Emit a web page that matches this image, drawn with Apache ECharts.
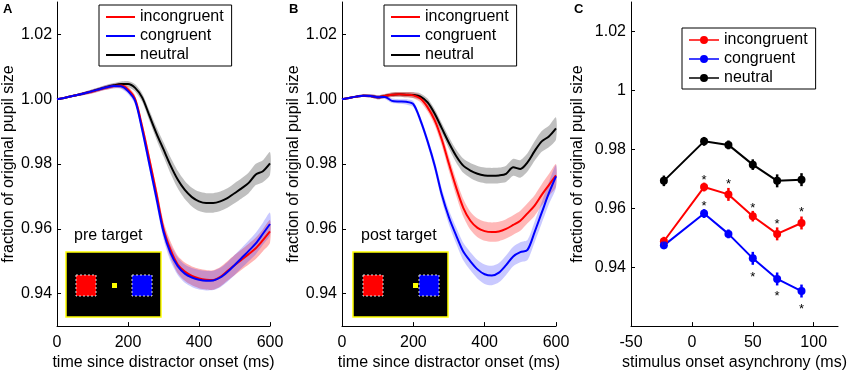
<!DOCTYPE html>
<html>
<head>
<meta charset="utf-8">
<script src="https://cdn.jsdelivr.net/npm/echarts@6/dist/echarts.min.js"></script>
<style>
html, body { margin: 0; padding: 0; background: #fff; }
#chart { width: 850px; height: 376px; }
</style>
</head>
<body>
<div id="chart"></div>
<script>
// time axis of panels A and B (ms since distractor onset)
var time = [0,20,40,60,80,100,120,140,160,180,200,220,240,260,280,300,320,340,360,380,400,420,440,460,480,500,520,540,560,580,600];

// panel A: pre target
var incA = [1.0000,1.0004,1.0009,1.0014,1.0019,1.0024,1.0030,1.0036,1.0041,1.0042,1.0030,1.0000,0.9915,0.9815,0.9710,0.9600,0.9535,0.9490,0.9468,0.9455,0.9447,0.9443,0.9442,0.9452,0.9470,0.9488,0.9505,0.9522,0.9540,0.9565,0.9592];
var conA = [1.0000,1.0004,1.0009,1.0014,1.0019,1.0025,1.0031,1.0037,1.0041,1.0040,1.0025,0.9995,0.9905,0.9800,0.9695,0.9590,0.9525,0.9485,0.9462,0.9450,0.9443,0.9440,0.9441,0.9450,0.9467,0.9488,0.9510,0.9532,0.9555,0.9585,0.9615];
var neuA = [1.0000,1.0004,1.0009,1.0014,1.0019,1.0025,1.0032,1.0038,1.0043,1.0047,1.0047,1.0035,1.0005,0.9950,0.9895,0.9845,0.9795,0.9752,0.9720,0.9698,0.9685,0.9680,0.9680,0.9685,0.9695,0.9710,0.9725,0.9742,0.9768,0.9778,0.9802];
var errA = [0,0.0002,0.0003,0.0004,0.0005,0.0006,0.0006,0.0007,0.0007,0.0008,0.0009,0.0011,0.0013,0.0016,0.0019,0.0022,0.0025,0.0027,0.0028,0.0029,0.0030,0.0030,0.0030,0.0030,0.0030,0.0031,0.0031,0.0032,0.0033,0.0034,0.0035];

// panel B: post target
var incB = [1.0000,1.0004,1.0008,1.0011,1.0010,1.0006,1.0010,1.0014,1.0015,1.0014,1.0012,1.0002,0.9975,0.9935,0.9875,0.9800,0.9728,0.9665,0.9625,0.9603,0.9593,0.9590,0.9592,0.9600,0.9612,0.9625,0.9648,0.9672,0.9705,0.9735,0.9765];
var conB = [1.0000,1.0004,1.0008,1.0011,1.0010,1.0006,1.0007,0.9995,0.9993,0.9992,0.9985,0.9935,0.9870,0.9795,0.9705,0.9635,0.9580,0.9530,0.9500,0.9475,0.9460,0.9456,0.9465,0.9488,0.9515,0.9528,0.9535,0.9590,0.9650,0.9710,0.9762];
var neuB = [1.0000,1.0004,1.0008,1.0011,1.0010,1.0006,1.0010,1.0014,1.0015,1.0014,1.0013,1.0008,0.9990,0.9955,0.9910,0.9865,0.9825,0.9795,0.9780,0.9770,0.9765,0.9764,0.9765,0.9770,0.9790,0.9785,0.9805,0.9840,0.9870,0.9885,0.9910];
var errB = [0,0.0002,0.0003,0.0004,0.0005,0.0006,0.0006,0.0007,0.0007,0.0008,0.0009,0.0011,0.0013,0.0016,0.0019,0.0022,0.0025,0.0027,0.0028,0.0029,0.0030,0.0030,0.0030,0.0030,0.0030,0.0031,0.0031,0.0032,0.0033,0.0034,0.0035];
var errBn = [0,0.0002,0.0003,0.0004,0.0005,0.0006,0.0006,0.0007,0.0007,0.0008,0.0009,0.0010,0.0012,0.0014,0.0016,0.0018,0.0020,0.0022,0.0023,0.0024,0.0024,0.0024,0.0024,0.0025,0.0026,0.0027,0.0028,0.0030,0.0032,0.0033,0.0034];

// panel C: stimulus onset asynchrony (ms)
var soa = [-23,10,30,50,70,90];
var incC = [0.9488,0.9672,0.9647,0.9573,0.9513,0.9550];
var conC = [0.9474,0.9582,0.9513,0.9430,0.9360,0.9319];
var neuC = [0.9693,0.9827,0.9815,0.9748,0.9693,0.9697];
var incErr = [0.0015,0.0015,0.0022,0.0018,0.0022,0.0022];
var conErr = [0.0013,0.0015,0.0015,0.0022,0.0022,0.0022];
var neuErr = [0.0018,0.0015,0.0015,0.0018,0.0022,0.0022];
// asterisks (significance marks)
var starX = [10,10,30,50,50,70,70,90,90];
var starY = [0.9707,0.9620,0.9693,0.9613,0.9380,0.9560,0.9313,0.9600,0.9269];

var tickA = [0,200,400,600];
var tickC = [-50,0,50,100];
var tickY = [0.94,0.96,0.98,1.00,1.02];

var FONT = 'Liberation Sans, Arial, sans-serif';
var RED = '#ff0000', BLUE = '#0000ff', BLACK = '#000000';

function pairs(xs, ys) {
  return xs.map(function (x, i) { return [x, ys[i]]; });
}

// shaded error band drawn as one polygon through the axis scales
function bandSeries(ax, vals, err, fill) {
  return {
    type: 'custom', xAxisIndex: ax, yAxisIndex: ax, data: [[time[0], vals[0]]], z: 1, silent: true,
    renderItem: function (params, api) {
      var pts = [];
      for (var i = 0; i < time.length; i++) pts.push(api.coord([time[i], vals[i] + err[i]]));
      for (var j = time.length - 1; j >= 0; j--) pts.push(api.coord([time[j], vals[j] - err[j]]));
      return { type: 'polygon', shape: { points: pts, smooth: 0.25 }, style: { fill: fill } };
    }
  };
}

function lineSeries(ax, name, vals, color) {
  return { type: 'line', name: name, xAxisIndex: ax, yAxisIndex: ax, data: pairs(time, vals),
    symbol: 'none', smooth: 0.3, lineStyle: { color: color, width: 2 }, itemStyle: { color: color }, z: 3 };
}

function errSeries(xs, ys, es, color) {
  var data = xs.map(function (x, i) { return [x, ys[i], es[i]]; });
  return {
    type: 'custom', xAxisIndex: 2, yAxisIndex: 2, data: data, z: 4, silent: true,
    renderItem: function (params, api) {
      var p1 = api.coord([api.value(0), api.value(1) - api.value(2)]);
      var p2 = api.coord([api.value(0), api.value(1) + api.value(2)]);
      return { type: 'line', shape: { x1: p1[0], y1: p1[1], x2: p2[0], y2: p2[1] },
        style: { stroke: color, lineWidth: 2.5 } };
    }
  };
}

function xAxisDef(grid, min, max, ticks, name) {
  return {
    type: 'value', gridIndex: grid, min: min, max: max,
    name: name, nameLocation: 'middle', nameGap: 28,
    nameTextStyle: { color: '#000', fontSize: 16, fontFamily: FONT },
    axisLine: { onZero: false, lineStyle: { color: '#000', width: 1 } },
    axisTick: { inside: true, length: 4, customValues: ticks, lineStyle: { color: '#000' } },
    axisLabel: { customValues: ticks, color: '#000', fontSize: 16, fontFamily: FONT, margin: 8 },
    splitLine: { show: false }
  };
}

function yAxisDef(grid, min, fmt, gap) {
  return {
    type: 'value', gridIndex: grid, min: min, max: 1.03,
    name: 'fraction of original pupil size', nameLocation: 'middle', nameGap: gap,
    nameTextStyle: { color: '#000', fontSize: 16, fontFamily: FONT },
    axisLine: { show: true, onZero: false, lineStyle: { color: '#000', width: 1 } },
    axisTick: { show: true, inside: true, length: 4, customValues: tickY, lineStyle: { color: '#000' } },
    axisLabel: { customValues: tickY, color: '#000', fontSize: 16, fontFamily: FONT, margin: 5, formatter: fmt },
    splitLine: { show: false }
  };
}

var fmt2 = function (v) { return v.toFixed(2); };
var fmtC = function (v) { return Math.abs(v - 1) < 1e-9 ? '1' : v.toFixed(2); };

var legendText = { color: '#000', fontSize: 16, fontFamily: FONT, lineHeight: 18 };
var lineIcon = 'rect';
var dotIcon = 'path://M0,4.2L30,4.2L30,5.8L0,5.8Z M15,1A4,4 0 1 1 15,9A4,4 0 1 1 15,1Z';

function legendDef(left, top, icon, w, h) {
  return {
    left: left, top: top, orient: 'vertical', itemGap: 1,
    itemWidth: w, itemHeight: h, padding: [3, 8, 2, 7],
    borderColor: '#000', borderWidth: 1, backgroundColor: '#fff',
    textStyle: legendText, selectedMode: false,
    data: [
      { name: 'incongruent', icon: icon },
      { name: 'congruent', icon: icon },
      { name: 'neutral', icon: icon }
    ]
  };
}

function starSeries() {
  return {
    type: 'custom', xAxisIndex: 2, yAxisIndex: 2, data: pairs(starX, starY), z: 5, silent: true,
    renderItem: function (params, api) {
      var p = api.coord([api.value(0), api.value(1)]);
      // the '*' glyph sits high in its box, so nudge it down to centre it on the value
      return { type: 'text', x: p[0], y: p[1] + 4,
        style: { text: '*', fontSize: 13, fontFamily: FONT, fill: '#000', align: 'center', verticalAlign: 'middle' } };
    }
  };
}

function insetGraphic(x, label, redX, dotX, blueX) {
  var els = [];
  els.push({ type: 'text', left: x + 48 - 40, top: 228, style: { text: label, font: '16px ' + FONT, fill: '#000', width: 80, align: 'center' } });
  els.push({ type: 'rect', shape: { x: x, y: 252, width: 95, height: 65 }, style: { fill: '#000', stroke: '#ffff00', lineWidth: 1.5 } });
  els.push({ type: 'rect', shape: { x: redX, y: 275, width: 20, height: 21 }, style: { fill: '#ff0000', stroke: '#ddd', lineWidth: 1, lineDash: [2, 2] } });
  els.push({ type: 'rect', shape: { x: dotX, y: 283, width: 5, height: 5 }, style: { fill: '#ffff00' } });
  els.push({ type: 'rect', shape: { x: blueX, y: 275, width: 20, height: 21 }, style: { fill: '#0000ff', stroke: '#ddd', lineWidth: 1, lineDash: [2, 2] } });
  return els;
}

var chart = echarts.init(document.getElementById('chart'), null, { renderer: 'canvas' });

var series = [
  bandSeries(0, neuA, errA, 'rgba(0,0,0,0.25)'),
  bandSeries(0, incA, errA, 'rgba(255,0,0,0.3)'),
  bandSeries(0, conA, errA, 'rgba(40,40,255,0.25)'),
  lineSeries(0, 'neutral', neuA, BLACK),
  lineSeries(0, 'incongruent', incA, RED),
  lineSeries(0, 'congruent', conA, BLUE),
  bandSeries(1, neuB, errBn, 'rgba(0,0,0,0.25)'),
  bandSeries(1, incB, errB, 'rgba(255,0,0,0.28)'),
  bandSeries(1, conB, errB, 'rgba(40,40,255,0.25)'),
  lineSeries(1, 'neutral', neuB, BLACK),
  lineSeries(1, 'incongruent', incB, RED),
  lineSeries(1, 'congruent', conB, BLUE),
  { type: 'line', name: 'incongruent', xAxisIndex: 2, yAxisIndex: 2, data: pairs(soa, incC),
    symbol: 'circle', symbolSize: 8, lineStyle: { color: RED, width: 2 }, itemStyle: { color: RED }, z: 3 },
  { type: 'line', name: 'congruent', xAxisIndex: 2, yAxisIndex: 2, data: pairs(soa, conC),
    symbol: 'circle', symbolSize: 8, lineStyle: { color: BLUE, width: 2 }, itemStyle: { color: BLUE }, z: 3 },
  { type: 'line', name: 'neutral', xAxisIndex: 2, yAxisIndex: 2, data: pairs(soa, neuC),
    symbol: 'circle', symbolSize: 8, lineStyle: { color: BLACK, width: 2 }, itemStyle: { color: BLACK }, z: 3 },
  errSeries(soa, incC, incErr, RED),
  errSeries(soa, conC, conErr, BLUE),
  errSeries(soa, neuC, neuErr, BLACK),
  starSeries()
];

var option = {
  animation: false,
  backgroundColor: '#fff',
  grid: [
    { left: 56, top: 2, width: 214, height: 328 },
    { left: 342, top: 2, width: 214, height: 328 },
    { left: 631, top: 2, width: 213, height: 328 }
  ],
  xAxis: [
    xAxisDef(0, 0, 600, tickA, 'time since distractor onset (ms)'),
    xAxisDef(1, 0, 600, tickA, 'time since distractor onset (ms)'),
    xAxisDef(2, -50, 120, tickC, 'stimulus onset asynchrony (ms)')
  ],
  yAxis: [
    yAxisDef(0, 0.93, fmt2, 37),
    yAxisDef(1, 0.93, fmt2, 37),
    yAxisDef(2, 0.92, fmtC, 45)
  ],
  legend: [
    legendDef(99, 5, lineIcon, 29, 2),
    legendDef(384, 5, lineIcon, 29, 2),
    legendDef(682, 28, dotIcon, 30, 8)
  ],
  graphic: [
    { type: 'text', left: 3, top: 3, style: { text: 'A', font: 'bold 13px ' + FONT, fill: '#000' } },
    { type: 'text', left: 289, top: 3, style: { text: 'B', font: 'bold 13px ' + FONT, fill: '#000' } },
    { type: 'text', left: 574, top: 3, style: { text: 'C', font: 'bold 13px ' + FONT, fill: '#000' } }
  ].concat(insetGraphic(66, 'pre target', 76, 112, 132))
   .concat(insetGraphic(353, 'post target', 363, 413, 419)),
  series: series
};

chart.setOption(option);
</script>
</body>
</html>
